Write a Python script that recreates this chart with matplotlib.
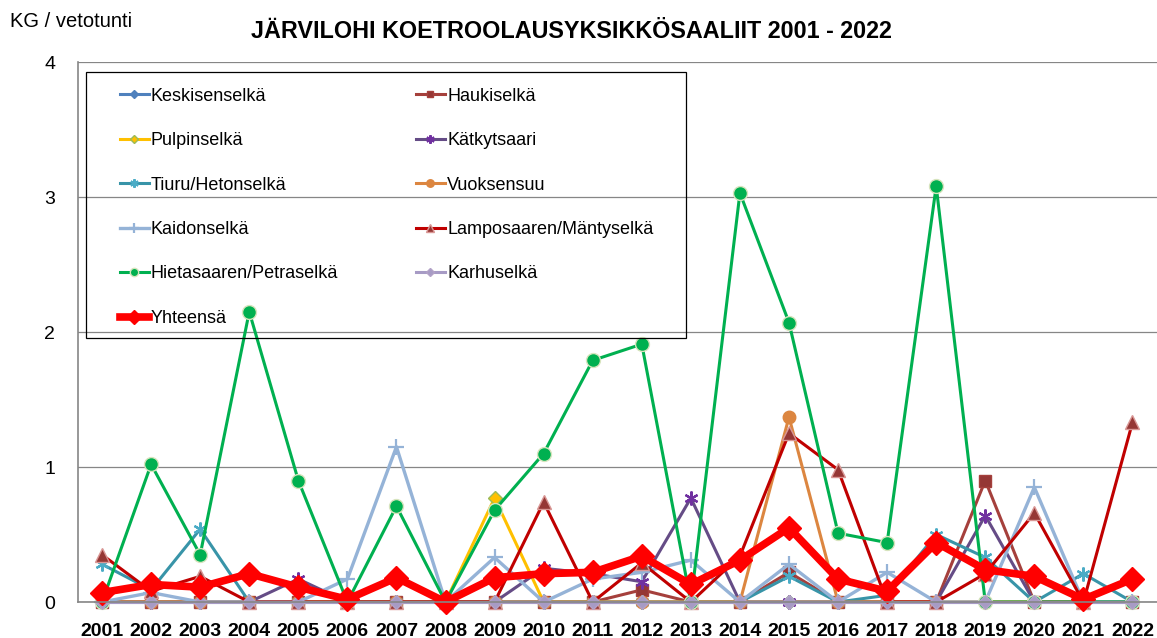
import matplotlib
matplotlib.use('Agg')
import matplotlib.pyplot as plt
from matplotlib.patches import Rectangle

plt.rcParams['font.family'] = ['Liberation Sans', 'DejaVu Sans']

years = list(range(2001, 2023))

keskisenselka = [0, 0, 0, 0, 0, 0, 0, 0, 0, 0, 0, 0, 0, 0, 0, 0, 0, 0, 0, 0, 0, 0]
haukiselka = [0, 0, 0, 0, 0, 0, 0, 0, 0, 0, 0, 0.09, 0, 0, 0.22, 0, 0, 0, 0.90, 0, 0, 0]
pulpinselka = [0, 0, 0, 0, 0, 0, 0, 0, 0.77, 0, 0, 0, 0, 0, 0, 0, 0, 0, 0, 0, 0, 0]
katkytsaari = [0, 0, 0, 0, 0.17, 0, 0, 0, 0, 0.25, 0.21, 0.15, 0.77, 0, 0, 0, 0, 0, 0.64, 0, 0, 0]
tiuru = [0.28, 0.09, 0.54, 0, 0, 0, 0, 0, 0, 0, 0, 0, 0, 0, 0.19, 0, 0.05, 0.50, 0.33, 0, 0.21, 0]
vuoksensuu = [0, 0, 0, 0, 0, 0, 0, 0, 0, 0, 0, 0, 0, 0, 1.37, 0, 0, 0, 0, 0, 0, 0]
kaidonselka = [0, 0.07, 0, 0, 0, 0.17, 1.15, 0, 0.33, 0, 0.17, 0.22, 0.31, 0, 0.28, 0, 0.22, 0, 0, 0.85, 0, 0]
lamposaari = [0.35, 0.08, 0.19, 0, 0, 0, 0, 0, 0, 0.74, 0, 0.29, 0, 0.34, 1.25, 0.98, 0, 0, 0.21, 0.66, 0, 1.33]
hietasaari = [0, 1.02, 0.35, 2.15, 0.90, 0, 0.71, 0, 0.68, 1.10, 1.79, 1.91, 0, 3.03, 2.07, 0.51, 0.44, 3.08, 0, 0, 0, 0]
karhuselka = [0, 0, 0, 0, 0, 0, 0, 0, 0, 0, 0, 0, 0, 0, 0, 0, 0, 0, 0, 0, 0, 0]
yhteensa = [0.07, 0.13, 0.11, 0.21, 0.11, 0.02, 0.18, 0.0, 0.18, 0.21, 0.22, 0.34, 0.13, 0.31,
            0.55, 0.17, 0.08, 0.44, 0.24, 0.19, 0.02, 0.17]

star = (6, 2, 0)
# name, values, line colour, marker, marker face, marker edge, size, line width
series = [
    ('Keskisenselkä', keskisenselka, '#4F81BD', 'D', '#4F81BD', '#4F81BD', 7, 2.2),
    ('Haukiselkä', haukiselka, '#A5403C', 's', '#953735', '#A5403C', 8, 2.2),
    ('Pulpinselkä', pulpinselka, '#FFC000', 'D', '#FFC000', '#9BBB59', 7, 2.2),
    ('Kätkytsaari', katkytsaari, '#654C86', star, '#7030A0', '#7030A0', 10, 2.2),
    ('Tiuru/Hetonselkä', tiuru, '#3894A8', star, '#4BACC6', '#4BACC6', 10, 2.2),
    ('Vuoksensuu', vuoksensuu, '#DC8640', 'o', '#DC8640', '#DC8640', 9, 2.2),
    ('Kaidonselkä', kaidonselka, '#95B3D7', '+', '#95B3D7', '#95B3D7', 12, 2.4),
    ('Lamposaaren/Mäntyselkä', lamposaari, '#C00000', '^', '#953735', '#D99694', 10, 2.2),
    ('Hietasaaren/Petraselkä', hietasaari, '#00B050', 'o', '#00B050', '#D7E4BD', 10, 2.2),
    ('Karhuselkä', karhuselka, '#A79BC5', 'D', '#A79BC5', '#B3A2C7', 7, 2.2),
    ('Yhteensä', yhteensa, '#FF0000', 'D', '#FF0000', '#FF0000', 12, 5.5),
]

fig = plt.figure(figsize=(11.57, 6.38), dpi=100)
ax = fig.add_axes([0.067, 0.0564, 0.933, 0.8464])

handles = {}
for name, vals, col, mk, mfc, mec, ms, lw in series:
    h, = ax.plot(years, vals, color=col, lw=lw, marker=mk, ms=ms, mfc=mfc, mec=mec,
                 mew=1.0 if mk not in ('+', star) else 1.6, clip_on=False, label=name)
    handles[name] = h

ax.set_xlim(2000.5, 2022.5)
ax.set_ylim(0, 4)
ax.set_yticks([0, 1, 2, 3, 4])
ax.set_xticks(years)
ax.set_xticklabels([str(y) for y in years], fontweight='bold', fontsize=14)
ax.tick_params(axis='x', length=0, pad=15)
ax.tick_params(axis='y', length=0, pad=16, labelsize=14)
ax.grid(axis='y', color='#868686', lw=0.9)
ax.set_axisbelow(True)
for s in ['top', 'right']:
    ax.spines[s].set_visible(False)
for s in ['left', 'bottom']:
    ax.spines[s].set_color('#868686')
    ax.spines[s].set_linewidth(1.2)

fig.text(0.494, 0.951, 'JÄRVILOHI KOETROOLAUSYKSIKKÖSAALIIT 2001 - 2022', ha='center', va='center',
         fontsize=16.8, fontweight='bold')
fig.text(0.009, 0.966, 'KG / vetotunti', ha='left', va='center', fontsize=14.5)

# legend: Excel fills rows, matplotlib fills columns
order = ['Keskisenselkä', 'Pulpinselkä', 'Tiuru/Hetonselkä', 'Kaidonselkä', 'Hietasaaren/Petraselkä',
         'Yhteensä', 'Haukiselkä', 'Kätkytsaari', 'Vuoksensuu', 'Lamposaaren/Mäntyselkä', 'Karhuselkä']
leg = fig.legend([handles[n] for n in order], order, ncol=2, loc='upper left',
                 bbox_to_anchor=(107 / 1157, 1 - 75 / 638), frameon=False, fontsize=13,
                 handlelength=1.6, handletextpad=0.13, labelspacing=1.52, columnspacing=4.3,
                 markerscale=0.6, borderpad=0.2)
fig.add_artist(Rectangle((86 / 1157, 1 - 338 / 638), (686 - 86) / 1157, (338 - 72) / 638,
                         transform=fig.transFigure, fill=False, edgecolor='black', lw=0.9))

fig.savefig('out.png', dpi=100)
